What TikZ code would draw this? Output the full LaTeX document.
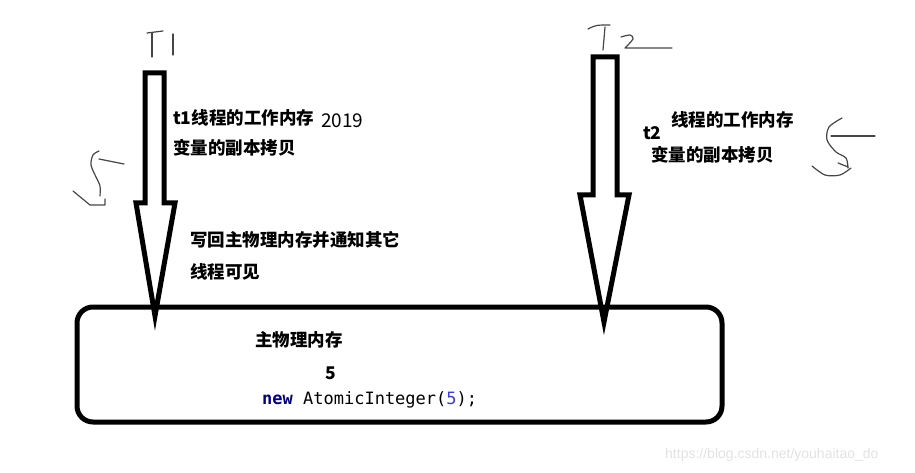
\documentclass[tikz,border=0pt]{standalone}
\usepackage{fontspec}
\newfontfamily\cjk{Noto Sans CJK SC}
\newfontfamily\codefont{DejaVu Sans Mono}
\newfontfamily\wmfont{Liberation Sans}
\definecolor{kwnavy}{RGB}{0,0,128}
\definecolor{numblue}{RGB}{60,60,220}
\definecolor{penline}{RGB}{70,70,70}
\definecolor{wmgray}{RGB}{226,226,226}
\tikzset{
  fatarrow/.style={line width=5pt, line join=miter},
  pen/.style={penline, line width=1.2pt, line cap=round, line join=round},
  cntext/.style={anchor=west, inner sep=0pt, font=\cjk\bfseries\fontsize{17.5}{20}\selectfont},
}
\begin{document}
\begin{tikzpicture}[x=1pt,y=-1pt]
  \useasboundingbox (0,0) rectangle (915,473);
  % Main memory box
  \draw [line width=5pt, rounded corners=16pt] (77,307) rectangle (722,422);
  % Thread arrows
  \draw [fatarrow] (145,73) -- (164,73) -- (164,203) -- (175,203) -- (155,316) -- (136,203) -- (145,203) -- cycle;
  \draw [fatarrow] (593,57) -- (617,57) -- (617,195) -- (629,195) -- (604,322) -- (580,195) -- (593,195) -- cycle;
  % Handwritten T1, T2
  \draw [pen] (147,33) -- (163,31);
  \draw [pen] (152,33) -- (152,57);
  \draw [pen] (173,34) -- (173,55);
  \draw [pen] (588,29) .. controls (596,25) .. (610,25);
  \draw [pen] (605,27) -- (603,50);
  \draw [pen] plot[smooth] coordinates {(621,37) (630,35) (633,39) (625,48)} -- (672,48);
  % Handwritten 5s
  \draw [pen] (99,159) -- (124,164);
  \draw [pen] plot[smooth] coordinates {(99,151) (93,155) (91,165) (96,177) (100,186) (100,196)};
  \draw [pen] (73,191) -- (90,205) -- (105,205) -- (105,199);
  \draw [pen] (831,136) -- (875,136);
  \draw [pen] plot[smooth] coordinates {(842,118) (829,127) (827,140) (836,152) (846,158) (848,168)};
  \draw [pen] plot[smooth] coordinates {(812,166) (825,175) (840,175) (851,168)};
  \draw [pen] (838,163) -- (848,167);
  % Thread texts
  \node [cntext] (t1note) at (173,118) {t1线程的工作内存};
  \node [anchor=west, inner sep=0pt, font=\cjk\fontsize{19}{21}\selectfont] (year) at (321,121) {2019};
  \node [cntext] (t1copy) at (173,148) {变量的副本拷贝};
  \node [cntext] (t2tag) at (643,133) {t2};
  \node [cntext] (t2note) at (671,120) {线程的工作内存};
  \node [cntext] (t2copy) at (651,155) {变量的副本拷贝};
  \node [cntext] (writeback) at (190,240) {写回主物理内存并通知其它};
  \node [cntext] (visible) at (190,272) {线程可见};
  % Box contents
  \node [cntext] (mainmem) at (255,340) {主物理内存};
  \node [cntext] (value) at (325,373) {5};
  \node [anchor=west, inner sep=0pt, font=\codefont\fontsize{17}{20}\selectfont] (code) at (262,400) {\textcolor{kwnavy}{\bfseries new} AtomicInteger(\textcolor{numblue}{5});};
  % Watermark
  \node [anchor=west, inner sep=0pt, text=wmgray, font=\wmfont\fontsize{14}{16}\selectfont] (watermark) at (665,455) {https://blog.csdn.net/youhaitao\_do};
\end{tikzpicture}
\end{document}
